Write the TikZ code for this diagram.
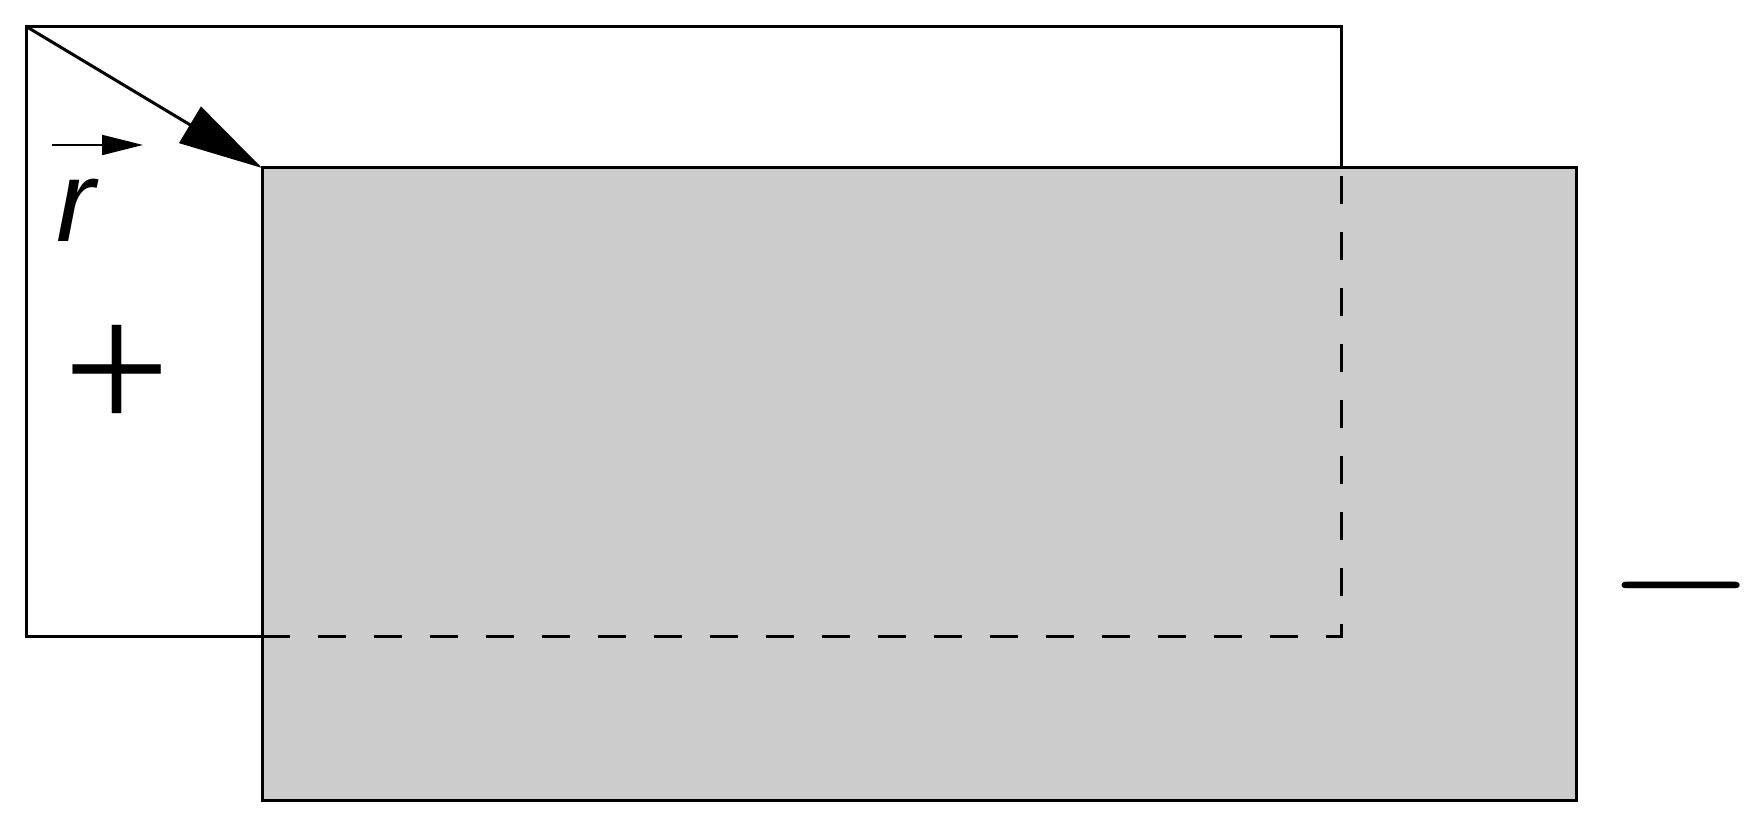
\documentclass[tikz,border=0pt]{standalone}
\usepackage{fontspec}
\setsansfont{Liberation Sans}
\newfontfamily\signfont{Liberation Serif}
\usetikzlibrary{arrows.meta}
\definecolor{plategray}{HTML}{CCCCCC}
\begin{document}
\begin{tikzpicture}[
  plate/.style={draw=black, line width=0.03cm, rectangle, inner sep=0pt, outer sep=0pt},
  hidden/.style={draw=black, line width=0.03cm, dash pattern=on 0.28cm off 0.28cm},
  bigarrow/.style={line width=0.03cm, -{Triangle[length=0.84cm,width=0.42cm]}},
  vecarrow/.style={line width=0.02cm, -{Triangle[length=0.41cm,width=0.2cm]}},
  sign/.style={inner sep=0pt, outer sep=0pt}
]
\useasboundingbox (0,0) rectangle (17.5,8.38);
% back plate
\node[plate, minimum width=13.14cm, minimum height=6.10cm] (back) at (6.84,5.06) {};
% front plate
\node[plate, fill=plategray, minimum width=13.14cm, minimum height=6.33cm] (front) at (9.19,3.535) {};
% hidden edges of back plate
\draw[hidden] (front.west |- back.south) -- (back.south east) -- (front.north -| back.east);
% displacement arrow
\draw[bigarrow] (back.north west) -- (front.north west);
% vector r label
\coordinate (va) at (0.52,6.93);
\coordinate (vb) at (1.43,6.93);
\draw[vecarrow] (va) -- (vb);
\node[sign, anchor=base west, font=\fontsize{33}{33}\selectfont\sffamily\itshape] (rlabel) at (0.56,5.965) {r};
% charges
\node[sign, font=\fontsize{54}{54}\selectfont\signfont] (plus) at (1.17,4.59) {+};
\node[sign, font=\fontsize{53.5}{53.5}\selectfont\rmfamily] (minus) at (16.81,2.31) {\symbol{"2212}};
\end{tikzpicture}
\end{document}
